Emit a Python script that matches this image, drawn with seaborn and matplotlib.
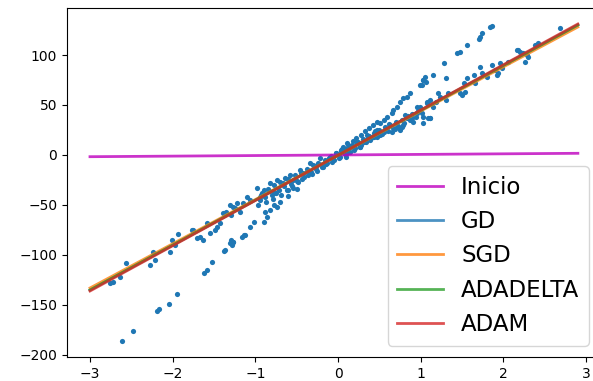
import matplotlib
matplotlib.use('Agg')
import matplotlib.pyplot as plt
import seaborn as sns

# scatter points (main band + steeper stripe)
x_pts = [
    # far left, main band
    -2.76, -2.72, -2.64, -2.56, -2.28, -2.21, -2.24, -2.03, -2.01, -1.93, -1.97,
    -1.77, -1.71, -1.63, -1.59, -1.55, -1.47, -1.43, -1.39, -1.35, -1.31, -1.27, -1.22,
    -1.75, -1.67, -1.49, -1.25, -1.29, -1.19, -1.15, -1.10, -1.06,
    # left, steeper stripe
    -2.615, -2.475, -2.19, -2.17, -2.05, -1.95, -1.62, -1.59, -1.53, -1.375, -1.285, -1.266,
    -1.37, -1.29, -1.16, -1.12, -1.06, -1.02, -0.90, -0.86, -0.88, -0.78, -0.74, -1.31, -1.27,
    -1.14, -0.82, -0.70, -0.60, -0.50,
    # centre, main band
    -0.98, -0.90, -0.82, -0.74, -0.66, -0.58, -0.54, -0.46, -0.42, -0.34, -0.26, -0.22,
    -0.18, -0.10, -0.02, 0.06, 0.11, -0.62, -0.54, -0.78, -0.94,
    -0.95, -0.92, -0.88, -0.85, -0.80, -0.77, -0.72, -0.70, -0.65, -0.60, -0.57, -0.52,
    -0.50, -0.45, -0.41, -0.38, -0.33, -0.30, -0.27, -0.24, -0.20, -0.16, -0.13, -0.09,
    -0.05, -0.03, 0.01, 0.04, 0.08, 0.10, 0.14, 0.17, 0.20, 0.24, 0.28, 0.30, 0.34, 0.37,
    0.40, 0.44, 0.47, 0.50, 0.53, 0.57, 0.60, 0.63, 0.67, 0.70, 0.73, 0.77, 0.80, 0.84,
    0.87, 0.90, 0.94, 0.97,
    1.07, 1.09, 1.01, 0.95, 0.91, 0.83, 0.79, 0.75, 0.71, 0.65, 0.55, 0.51, 0.47, 0.43,
    0.39, 0.35, 0.31, 0.27, 0.23, 0.19, 0.15, 0.11, 0.06, 0.02, -0.02, -0.06,
    1.03, 1.11, 0.77, 0.83, 0.95,
    -0.97, -0.93, -0.87, -0.83, -0.79, -0.75, -0.69, -0.64, -0.61, -0.56, -0.48, -0.44,
    -0.36, -0.31, -0.25, -0.15, -0.11, -0.07, 0.03, 0.09, 0.16, 0.26, 0.36, 0.45, 0.62,
    0.69, 0.81, 0.89,
    # centre, steeper stripe
    0.05, 0.12, 0.18, 0.22, 0.28, 0.33, 0.38, 0.42, 0.47, 0.51, 0.55, 0.59, 0.65, 0.67,
    0.71, 0.75, 0.79, 0.83, 0.87, 0.99, 1.03, 1.05,
    # right, steeper stripe
    1.84, 1.86, 1.74, 1.72, 1.70, 1.56, 1.44, 1.47, 1.28, 1.15, 1.03, 1.06, 1.01,
    # right, main band
    1.31, 1.21, 1.23, 1.31, 1.33, 1.475, 1.50, 1.54, 1.52, 1.56, 1.64, 1.66, 1.72, 1.74,
    1.80, 1.86, 1.90, 1.94, 1.98, 1.96, 1.92, 2.06, 2.16, 2.20, 2.24, 2.26, 2.30, 2.38,
    2.42, 2.68, 2.18, 2.28,
    0.99, 1.07, 1.11, 1.03, 1.11, 1.19, 1.15,
]
y_pts = [
    -128, -127, -122, -108, -110, -105, -97, -97, -85, -79, -90,
    -75, -83, -85, -68, -78, -72, -68, -58, -57, -50, -52, -48,
    -75, -82, -75, -53, -60, -57, -48, -42, -45,
    -186, -176, -156, -154, -149, -139, -118, -115, -107, -96, -90, -87,
    -95, -85, -82, -80, -72, -67, -67, -62, -57, -50, -52, -88, -87,
    -80, -55, -47, -41, -34,
    -33, -35, -28, -25, -28, -20, -25, -15, -18, -8, -10, -3,
    -12, -2, 2, 8, 12, -35, -33, -38, -42,
    -45, -38, -42, -34, -40, -30, -35, -27, -31, -24, -29, -20,
    -26, -18, -22, -14, -17, -10, -14, -8, -12, -5, -8, -1,
    -5, 1, -3, 4, 1, 6, 3, 10, 7, 13, 10, 16, 13, 19,
    17, 22, 18, 25, 21, 28, 24, 30, 27, 33, 29, 35, 32, 39,
    35, 41, 38, 44,
    53, 37, 42, 48, 33, 37, 30, 25, 28, 23, 23, 20, 25, 18,
    15, 20, 13, 8, 12, 5, 8, 2, 5, -2, 2, -2,
    32, 37, 28, 38, 42,
    -50, -40, -47, -36, -44, -38, -40, -23, -35, -31, -27, -24,
    -20, -19, -16, -9, -3, -7, 5, -2, 9, 8, 18, 24, 31,
    26, 40, 37,
    6, 10, 14, 17, 20, 24, 27, 30, 33, 32, 35, 38, 42, 45,
    48, 53, 57, 58, 62, 70, 75, 78,
    128, 129, 122, 118, 116, 110, 102, 103, 92, 80, 75, 73, 70,
    77, 62, 58, 55, 62, 62, 60, 63, 72, 77, 80, 72, 88, 82,
    78, 90, 85, 82, 87, 92, 80, 93, 105, 103, 102, 93, 98, 110,
    112, 127, 105, 100,
    48, 52, 55, 38, 37, 53, 48,
]

# fitted lines: start point and end point
x_line = [-3.0, 2.9]
inicio_y = [-1.7, 1.7]
gd_y = [-135, 130]
sgd_y = [-133, 128]
adadelta_y = [-135, 130]
adam_y = [-136, 131]

fig = plt.figure(figsize=(5.93, 3.81), dpi=100)
# axes runs a little past the right edge, as in the cropped original
ax = fig.add_axes([0.113, 0.063, 0.899, 0.916])

sns.scatterplot(x=x_pts, y=y_pts, ax=ax, s=14, color='#1f77b4', linewidth=0)

sns.lineplot(x=x_line, y=inicio_y, ax=ax, color='m', lw=2, alpha=0.8, label='Inicio')
sns.lineplot(x=x_line, y=gd_y, ax=ax, color='#1f77b4', lw=2, alpha=0.8, label='GD')
sns.lineplot(x=x_line, y=sgd_y, ax=ax, color='#ff7f0e', lw=2, alpha=0.8, label='SGD')
sns.lineplot(x=x_line, y=adadelta_y, ax=ax, color='#2ca02c', lw=2, alpha=0.8, label='ADADELTA')
sns.lineplot(x=x_line, y=adam_y, ax=ax, color='#d62728', lw=2, alpha=0.8, label='ADAM')

ax.set_xlim(-3.278, 3.169)
ax.set_ylim(-202, 147)
ax.set_yticks([-200, -150, -100, -50, 0, 50, 100])
ax.spines['right'].set_visible(False)
ax.legend(loc='lower right', fontsize=16.5)

plt.savefig('out.png', dpi=100)
